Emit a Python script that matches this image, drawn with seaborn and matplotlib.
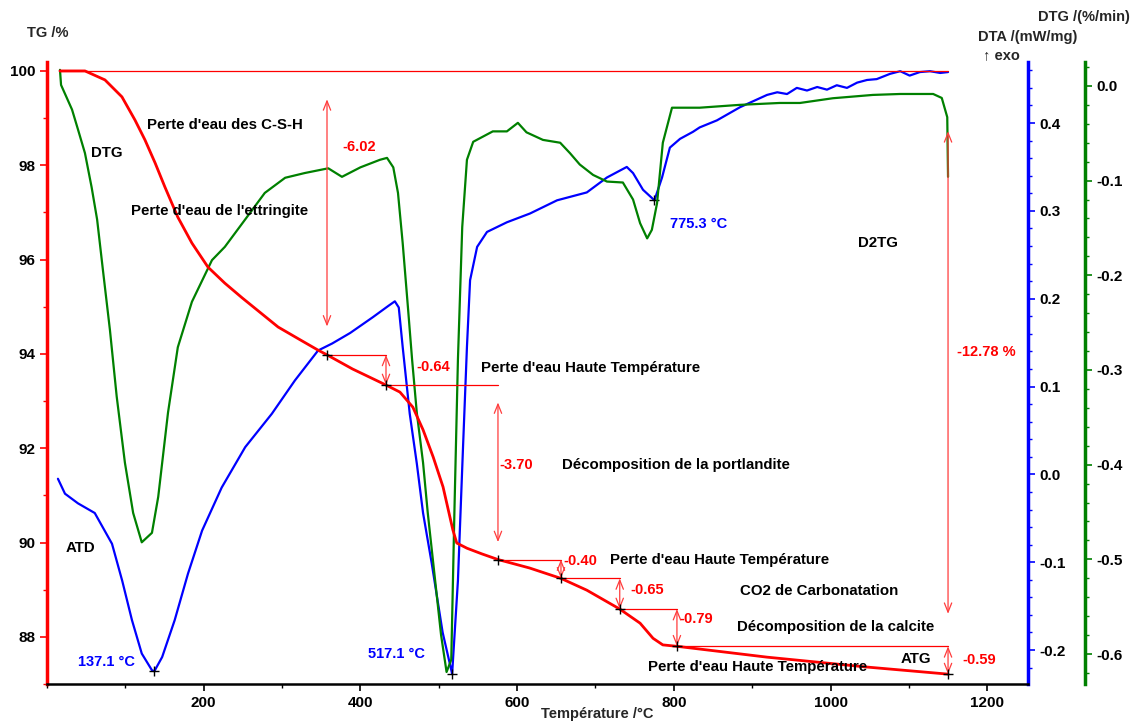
import numpy as np
import pandas as pd
import matplotlib
matplotlib.use("Agg")
import matplotlib.pyplot as plt
from matplotlib.ticker import MultipleLocator, FormatStrFormatter
import seaborn as sns

# ---- thermogravimetric curve (TG, % mass) ----
tg_temp = [16.6, 48.5, 74, 95.7, 112.3, 125, 138, 150.5, 167, 185, 205.5, 227,
           249, 272, 295, 323, 346, 357.4, 390, 432.7, 450.5, 467, 480, 493,
           505.5, 518, 523, 536, 555, 575.6, 616, 656, 689, 731, 757, 773.5,
           786, 804, 919, 1046.6, 1150]
tg_mass = [100.0, 100.0, 99.81, 99.45, 98.96, 98.54, 98.05, 97.54, 96.9, 96.35,
           95.84, 95.50, 95.19, 94.88, 94.57, 94.30, 94.08, 93.98, 93.68, 93.34,
           93.19, 92.87, 92.39, 91.81, 91.18, 90.27, 89.99, 89.88, 89.76, 89.64,
           89.46, 89.24, 88.99, 88.59, 88.29, 87.97, 87.83, 87.80, 87.57, 87.36,
           87.21]

# ---- differential thermal analysis (DTA, mW/mg) ----
dta_temp = [14, 23, 39.6, 61, 83, 96, 108.5, 121, 134, 137.1, 147, 163, 180,
            198, 223, 253, 287, 316.5, 346, 364, 387, 416, 436, 444, 449, 454,
            463, 472, 480, 491, 505, 517.1, 524.5, 531, 536, 540, 549, 561.6,
            587, 616.5, 651, 689, 714.7, 740, 748, 760.7, 775.3, 785, 795, 808,
            824.5, 833, 855, 884.5, 919, 932, 944.5, 957, 970, 983, 995.5, 1008,
            1021, 1034, 1046.6, 1059, 1076, 1089, 1101, 1114, 1127, 1140, 1150]
dta_signal = [-0.005, -0.022, -0.033, -0.044, -0.079, -0.121, -0.166, -0.204,
              -0.223, -0.224, -0.208, -0.166, -0.113, -0.064, -0.015, 0.031,
              0.069, 0.107, 0.141, 0.149, 0.161, 0.179, 0.192, 0.197, 0.190,
              0.145, 0.069, 0.0125, -0.044, -0.101, -0.180, -0.227, -0.121,
              0.031, 0.145, 0.221, 0.259, 0.276, 0.287, 0.297, 0.312, 0.321,
              0.338, 0.350, 0.343, 0.324, 0.312, 0.338, 0.372, 0.382, 0.390,
              0.395, 0.403, 0.418, 0.432, 0.435, 0.433, 0.440, 0.437, 0.441,
              0.438, 0.443, 0.440, 0.446, 0.449, 0.450, 0.456, 0.459, 0.454,
              0.458, 0.459, 0.457, 0.458]

# ---- derivative of TG (DTG, %/min) ----
dtg_temp = [16.6, 18, 32, 39.6, 48.5, 57, 64, 71.5, 80.4, 89, 99.5, 110, 121,
            134, 142, 154.5, 167, 185, 210.6, 227, 253, 278, 304, 329, 359,
            376.5, 400, 425, 434, 442, 448, 454, 461, 466, 472, 480, 486, 493,
            503, 510, 516, 520, 524.5, 530, 536, 544, 569, 587, 601, 612, 633,
            655, 667.5, 680, 697, 714.7, 735, 748, 757, 766, 772, 778.6, 786,
            797.7, 811.7, 833, 884, 935, 961, 1003, 1054, 1089, 1131, 1142,
            1149, 1150]
dtg_rate = [0.017, 0.001, -0.025, -0.046, -0.071, -0.107, -0.141, -0.195,
            -0.258, -0.328, -0.398, -0.451, -0.482, -0.472, -0.434, -0.345,
            -0.276, -0.228, -0.184, -0.170, -0.141, -0.113, -0.097, -0.092,
            -0.087, -0.096, -0.086, -0.078, -0.076, -0.086, -0.113, -0.166,
            -0.237, -0.289, -0.345, -0.398, -0.451, -0.504, -0.580, -0.619,
            -0.606, -0.450, -0.289, -0.149, -0.078, -0.059, -0.048, -0.048,
            -0.039, -0.049, -0.057, -0.060, -0.071, -0.083, -0.094, -0.101,
            -0.102, -0.120, -0.145, -0.161, -0.152, -0.124, -0.060, -0.023,
            -0.023, -0.023, -0.020, -0.018, -0.018, -0.013, -0.0095, -0.0085,
            -0.0085, -0.0127, -0.033, -0.096]

# ---- mass-loss steps ----
step_temp = [357.4, 432.7, 575.6, 656, 731, 804, 1150]
step_loss = [6.02, 0.64, 3.70, 0.40, 0.65, 0.79, 0.59]
step_labels = ["-6.02", "-0.64", "-3.70", "-0.40", "-0.65", "-0.79", "-0.59"]
total_loss_label = "-12.78 %"

# DTA peak markers
peak_temp = [137.1, 517.1, 775.3]
peak_signal = [-0.224, -0.227, 0.312]
peak_labels = ["137.1 °C", "517.1 °C", "775.3 °C"]

x_ticks = [200, 400, 600, 800, 1000, 1200]
tg_ticks = [88, 90, 92, 94, 96, 98, 100]
dta_ticks = [-0.2, -0.1, 0.0, 0.1, 0.2, 0.3, 0.4]
dtg_ticks = [-0.6, -0.5, -0.4, -0.3, -0.2, -0.1, 0.0]

sns.set_theme(style="white")
plt.rcParams["font.family"] = ["Liberation Sans", "DejaVu Sans"]
plt.rcParams["font.weight"] = "bold"

RED = "#ff0000"
ARROW = "#ff3c3c"
BLUE = "#0000ff"
GREEN = "#008000"

fig = plt.figure(figsize=(11.37, 7.24), dpi=100)
fig.patch.set_facecolor("white")
ax = fig.add_axes([0.0413, 0.0552, 0.8628, 0.8592])
ax_dta = ax.twinx()
ax_dtg = ax.twinx()
ax.set_zorder(3)
ax.patch.set_visible(False)
ax_dta.patch.set_visible(False)
ax_dtg.patch.set_visible(False)

tg_df = pd.DataFrame({"T": tg_temp, "TG": tg_mass})
dta_df = pd.DataFrame({"T": dta_temp, "DTA": dta_signal})
dtg_df = pd.DataFrame({"T": dtg_temp, "DTG": dtg_rate})

sns.lineplot(data=dta_df, x="T", y="DTA", ax=ax_dta, color=BLUE, lw=1.6,
             sort=False, estimator=None)
sns.lineplot(data=dtg_df, x="T", y="DTG", ax=ax_dtg, color=GREEN, lw=1.6,
             sort=False, estimator=None)
sns.lineplot(data=tg_df, x="T", y="TG", ax=ax, color=RED, lw=2.0,
             sort=False, estimator=None)

ax.set_xlim(0, 1252)
ax.set_ylim(87.0, 100.19)
ax_dta.set_ylim(-0.2387, 0.4695)
ax_dtg.set_ylim(-0.6317, 0.0253)

# ---- spines ----
for s in ["top", "right"]:
    ax.spines[s].set_visible(False)
ax.spines["left"].set_color(RED)
ax.spines["left"].set_linewidth(2.5)
ax.spines["bottom"].set_color("black")
ax.spines["bottom"].set_linewidth(1.8)
for a in (ax_dta, ax_dtg):
    for s in ["top", "left", "bottom"]:
        a.spines[s].set_visible(False)
ax_dta.spines["right"].set_color(BLUE)
ax_dta.spines["right"].set_linewidth(2.5)
ax_dtg.spines["right"].set_position(("axes", 1.058))
ax_dtg.spines["right"].set_color(GREEN)
ax_dtg.spines["right"].set_linewidth(2.5)

# ---- ticks ----
ax.set_xticks(x_ticks)
ax.xaxis.set_minor_locator(MultipleLocator(100))
ax.set_yticks(tg_ticks)
ax.yaxis.set_minor_locator(MultipleLocator(1))
ax_dta.set_yticks(dta_ticks)
ax_dta.yaxis.set_minor_locator(MultipleLocator(0.02))
ax_dta.yaxis.set_major_formatter(FormatStrFormatter("%.1f"))
ax_dtg.set_yticks(dtg_ticks)
ax_dtg.yaxis.set_minor_locator(MultipleLocator(0.02))
ax_dtg.yaxis.set_major_formatter(FormatStrFormatter("%.1f"))

tick_font = dict(labelsize=11, labelcolor="black", direction="out")
ax.tick_params(axis="x", which="both", colors="black", bottom=True, **tick_font)
ax.tick_params(axis="y", which="both", colors=RED, left=True, **tick_font)
ax_dta.tick_params(axis="y", which="both", colors=BLUE, right=True, **tick_font)
ax_dtg.tick_params(axis="y", which="both", colors=GREEN, right=True, **tick_font)
for a in (ax, ax_dta, ax_dtg):
    a.tick_params(which="major", length=5, width=1.2)
    a.tick_params(which="minor", length=3, width=1.0)
    for lab in a.get_xticklabels() + a.get_yticklabels():
        lab.set_fontweight("bold")
    a.set_xlabel("")
    a.set_ylabel("")

# ---- mass-loss construction lines ----
step_mass = list(100 - np.cumsum(step_loss))
level_mass = [100.0] + step_mass[:-1]
ax.plot([15, 1150], [100.0, 100.0], color=RED, lw=0.9, zorder=1)
for i in range(1, len(step_temp)):
    ax.plot([step_temp[i - 1], step_temp[i]], [step_mass[i - 1]] * 2,
            color=RED, lw=0.9, zorder=1)

arrow_style = "<->,head_length=0.55,head_width=0.22"
for i, (t, loss) in enumerate(zip(step_temp, step_loss)):
    top = level_mass[i]
    bottom = step_mass[i]
    inset = 0.1 * loss if loss > 1 else 0.0
    ax.annotate("", xy=(t, bottom + inset), xytext=(t, top - inset),
                arrowprops=dict(arrowstyle=arrow_style, color=ARROW, lw=0.9,
                                shrinkA=0, shrinkB=0))

# overall loss arrow
total = 100 - step_mass[-1]
ax.annotate("", xy=(1150, step_mass[-1] + 0.1 * total),
            xytext=(1150, 100 - 0.1 * total),
            arrowprops=dict(arrowstyle=arrow_style, color=ARROW, lw=0.9,
                            shrinkA=0, shrinkB=0))

ax.scatter(step_temp, step_mass, marker="+", s=45, color="black", lw=1.0, zorder=5)
ax_dta.scatter(peak_temp, peak_signal, marker="+", s=45, color="black", lw=1.0,
               zorder=5)

# ---- loss values ----
loss_pos = [(376.5, 98.39), (471, 93.72), (578, 91.64), (658.6, 89.61),
            (745, 88.99), (806.6, 88.38), (1168, 87.51)]
for (x, y), lab in zip(loss_pos, step_labels):
    ax.text(x, y, lab, color=RED, fontsize=10.5, fontweight="bold",
            ha="left", va="center")
ax.text(1161.5, 94.04, total_loss_label, color=RED, fontsize=10.5,
        fontweight="bold", ha="left", va="center")

# ---- process labels ----
notes = [
    (127.6, 98.85, "Perte d'eau des C-S-H"),
    (56, 98.26, "DTG"),
    (107, 97.03, "Perte d'eau de l'ettringite"),
    (554, 93.70, "Perte d'eau Haute Température"),
    (657, 91.64, "Décomposition de la portlandite"),
    (718.6, 89.63, "Perte d'eau Haute Température"),
    (884.5, 88.97, "CO2 de Carbonatation"),
    (880.7, 88.21, "Décomposition de la calcite"),
    (767, 87.36, "Perte d'eau Haute Température"),
    (1090, 87.53, "ATG"),
    (1035, 96.35, "D2TG"),
    (24, 89.88, "ATD"),
]
for x, y, lab in notes:
    ax.text(x, y, lab, color="black", fontsize=10.8, fontweight="bold",
            ha="left", va="center")

peak_pos = [(39.6, 87.47), (409.7, 87.64), (795, 96.76)]
for (x, y), lab in zip(peak_pos, peak_labels):
    ax.text(x, y, lab, color=BLUE, fontsize=10.5, fontweight="bold",
            ha="left", va="center")

# ---- axis titles ----
fig.text(27 / 1137, 1 - 33 / 724, "TG /%", fontsize=10.5, fontweight="bold",
         ha="left", va="center")
fig.text(1130 / 1137, 1 - 17 / 724, "DTG /(%/min)", fontsize=10.5,
         fontweight="bold", ha="right", va="center")
fig.text(1077 / 1137, 1 - 37 / 724, "DTA /(mW/mg)", fontsize=10.5,
         fontweight="bold", ha="right", va="center")
fig.text(983 / 1137, 1 - 55 / 724, "↑ exo", fontsize=10.5, fontweight="bold",
         ha="left", va="center")
fig.text(597 / 1137, 1 - 714 / 724, "Température /°C", fontsize=10.5,
         fontweight="bold", ha="center", va="center")

fig.savefig("out.png", dpi=100, facecolor="white")
